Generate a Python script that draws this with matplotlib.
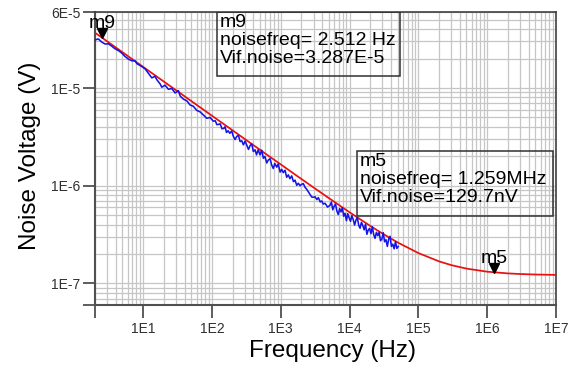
import matplotlib
matplotlib.use('Agg')
import matplotlib.pyplot as plt
import matplotlib.transforms as mtransforms
from matplotlib.patches import Rectangle
from matplotlib.ticker import LogLocator, NullFormatter

plt.rcParams['font.family'] = ['Liberation Sans', 'DejaVu Sans']

# ---------------- data ----------------
# red: simulated noise curve
sim_freq = [2, 3, 5, 10, 20, 50, 100, 200, 500, 1e3, 2e3, 3e3, 5e3, 1e4, 2e4, 3e4,
            5e4, 1e5, 2e5, 3e5, 5e5, 1e6, 2e6, 3e6, 5e6, 1e7]
sim_noise = [3.684e-5, 3.008e-5, 2.330e-5, 1.647e-5, 1.165e-5, 7.368e-6, 5.210e-6,
             3.684e-6, 2.330e-6, 1.652e-6, 1.171e-6, 9.588e-7, 7.466e-7, 5.348e-7,
             3.877e-7, 3.242e-7, 2.625e-7, 2.044e-7, 1.680e-7, 1.539e-7, 1.417e-7,
             1.317e-7, 1.265e-7, 1.247e-7, 1.232e-7, 1.221e-7]

# blue: measured noise
meas_freq = [2.0, 2.24, 2.51, 2.81, 3.13, 3.51, 3.92, 4.38, 4.90, 5.48, 6.11, 6.85,
             7.65, 8.10, 9.57, 10.7, 11.9, 13.4, 14.9, 15.8, 17.7, 18.7, 20.9, 23.3,
             26.1, 29.2, 32.6, 34.5, 38.5, 43.2, 48.2, 53.8, 60.3, 67.3, 75.2, 84.2,
             94.0, 105, 112, 118, 125, 132, 140, 148, 155, 163, 172, 182, 194, 205,
             217, 230, 243, 257, 272, 287, 304, 320, 340, 360, 380, 400, 424, 445,
             470, 501, 530, 560, 590, 627, 660, 700, 741, 780, 820, 876, 920, 980,
             1035, 1090, 1156, 1220, 1291, 1360, 1446, 1530, 1614, 1710, 1800, 1910,
             2000, 2133, 2250, 2390, 2600, 2823, 3000, 3155, 3350, 3524, 3750, 3947,
             4150, 4406, 4800,
             5210, 5450, 5710, 5980, 6260, 6550, 6860, 7180, 7510, 7860, 8230, 8610,
             9010, 9430, 9870, 10330, 10820, 11320, 11850, 12400, 12980, 13590,
             14220, 14890, 15580, 16310, 17070, 17870, 18700, 19570, 20490, 21440,
             22440, 23490, 24590, 25740, 26940, 28190, 29510, 30890, 32330, 33840,
             35420, 37070, 38800, 40610, 42510, 44490, 46570, 48740, 51010]
meas_noise = [3.11e-5, 3.18e-5, 2.95e-5, 2.82e-5, 2.84e-5, 2.68e-5, 2.52e-5, 2.42e-5,
              2.28e-5, 2.10e-5, 1.98e-5, 1.90e-5, 1.90e-5, 1.78e-5, 1.66e-5, 1.57e-5,
              1.42e-5, 1.27e-5, 1.32e-5, 1.22e-5, 1.10e-5, 1.02e-5, 1.07e-5, 9.7e-6,
              9.9e-6, 8.9e-6, 9.4e-6, 8.3e-6, 7.7e-6, 7.4e-6, 6.7e-6, 6.5e-6, 5.9e-6,
              5.7e-6, 5.3e-6, 4.9e-6, 5.0e-6,
              4.57e-6, 4.62e-6, 4.22e-6, 4.24e-6, 4.30e-6, 3.83e-6, 3.85e-6, 4.01e-6,
              3.51e-6, 3.65e-6, 3.44e-6, 3.63e-6, 3.20e-6, 2.97e-6, 3.20e-6, 3.27e-6,
              2.83e-6, 2.88e-6, 2.62e-6, 2.87e-6, 2.62e-6, 2.35e-6, 2.59e-6, 2.67e-6,
              2.24e-6, 2.33e-6, 2.07e-6, 2.33e-6, 2.07e-6, 2.31e-6, 1.91e-6, 1.99e-6,
              1.71e-6, 1.83e-6, 1.89e-6, 1.62e-6, 1.50e-6, 1.69e-6, 1.55e-6, 1.67e-6,
              1.38e-6, 1.47e-6, 1.36e-6, 1.44e-6, 1.22e-6, 1.29e-6, 1.18e-6, 1.26e-6,
              1.10e-6, 1.14e-6,
              1.01e-6, 1.06e-6, 1.00e-6, 1.03e-6, 1.05e-6, 9.66e-7, 9.17e-7, 8.38e-7,
              7.65e-7, 7.61e-7, 7.70e-7, 7.21e-7, 7.55e-7, 6.82e-7, 6.98e-7, 6.49e-7,
              6.61e-7, 6.04e-7,
              6.30e-7, 6.80e-7, 5.67e-7, 6.16e-7, 6.49e-7, 5.50e-7, 5.06e-7, 5.83e-7,
              5.39e-7, 5.94e-7, 4.87e-7, 5.22e-7, 4.38e-7, 5.17e-7, 4.68e-7, 4.32e-7,
              4.94e-7, 4.49e-7, 3.95e-7, 4.44e-7, 4.73e-7, 3.94e-7, 3.67e-7, 4.22e-7,
              3.92e-7, 3.53e-7, 4.04e-7, 3.18e-7, 3.52e-7, 3.65e-7, 3.23e-7, 3.80e-7,
              3.16e-7, 2.89e-7, 3.33e-7, 3.08e-7, 3.33e-7, 2.73e-7, 2.84e-7, 3.30e-7,
              2.67e-7, 2.80e-7, 2.39e-7, 2.84e-7, 3.03e-7, 2.39e-7, 2.52e-7, 2.26e-7,
              2.67e-7, 2.28e-7, 2.39e-7]

# markers
m9_freq, m9_val = 2.512, 3.287e-5
m5_freq, m5_val = 1.259e6, 129.7e-9

x_ticks = [2, 1e1, 1e2, 1e3, 1e4, 1e5, 1e6, 1e7]
x_labels = ['', '1E1', '1E2', '1E3', '1E4', '1E5', '1E6', '1E7']
y_ticks = [6e-8, 1e-7, 1e-6, 1e-5, 6e-5]
y_labels = ['', '1E-7', '1E-6', '1E-5', '6E-5']

# ---------------- plot ----------------
fig = plt.figure(figsize=(5.75, 3.72), dpi=100)
ax = fig.add_axes([0.1652, 0.180, 0.8017, 0.7877])
ax.set_xscale('log')
ax.set_yscale('log')
ax.set_xlim(2, 1e7)
ax.set_ylim(6e-8, 6e-5)

ax.plot(sim_freq, sim_noise, color='#e81010', lw=1.25, zorder=3)
ax.plot(meas_freq, meas_noise, color='#1414e6', lw=1.15, zorder=4)

# grid (major + minor, same look)
ax.xaxis.set_minor_locator(LogLocator(base=10, subs=range(2, 10), numticks=20))
ax.yaxis.set_minor_locator(LogLocator(base=10, subs=range(2, 10), numticks=20))
ax.xaxis.set_minor_formatter(NullFormatter())
ax.yaxis.set_minor_formatter(NullFormatter())
ax.grid(True, which='both', color='#c6c6c6', lw=0.9)
ax.set_axisbelow(True)

ax.set_xticks(x_ticks)
ax.set_xticklabels(x_labels)
ax.set_yticks(y_ticks)
ax.set_yticklabels(y_labels)
ax.tick_params(which='major', length=9, width=1.3, color='#505050',
               labelsize=10, labelcolor='#303030')
ax.tick_params(axis='x', pad=3)
ax.tick_params(axis='y', pad=1.5)
ax.tick_params(which='minor', length=0)

for side in ['left', 'bottom']:
    ax.spines[side].set_linewidth(1.5)
    ax.spines[side].set_color('#505050')
for side in ['top', 'right']:
    ax.spines[side].set_linewidth(1.2)
    ax.spines[side].set_color('#404040')

ax.set_xlabel('Frequency (Hz)', fontsize=17.5)
ax.xaxis.set_label_coords(0.516, -0.12)
ax.set_ylabel('Noise Voltage (V)', fontsize=17.5)
ax.yaxis.set_label_coords(-0.117, 0.51)

# markers with labels
for f, v, name in [(m9_freq, m9_val, 'm9'), (m5_freq, m5_val, 'm5')]:
    tr = ax.transData + mtransforms.ScaledTranslation(0, 3.2 / 72, fig.dpi_scale_trans)
    ax.plot([f], [v], marker='v', ms=6.5, color='black', transform=tr, zorder=5,
            clip_on=False)
    ax.annotate(name, (f, v), xytext=(0, 7), textcoords='offset points',
                ha='center', va='baseline', fontsize=14, zorder=5)

# readout boxes
ax.add_patch(Rectangle((0.2646, 0.7816), 0.3970, 0.2184, transform=ax.transAxes,
                       fill=False, ec='#303030', lw=1.1, zorder=5))
ax.text(0.2711, 0.993, 'm9\nnoisefreq= 2.512 Hz\nVif.noise=3.287E-5',
        transform=ax.transAxes, ha='left', va='top', fontsize=14,
        linespacing=1.07, zorder=5)

ax.add_patch(Rectangle((0.5683, 0.3038), 0.4252, 0.2218, transform=ax.transAxes,
                       fill=False, ec='#303030', lw=1.1, zorder=5))
ax.text(0.5748, 0.519, 'm5\nnoisefreq= 1.259MHz\nVif.noise=129.7nV',
        transform=ax.transAxes, ha='left', va='top', fontsize=14,
        linespacing=1.07, zorder=5)

fig.savefig('out.png', dpi=100)
